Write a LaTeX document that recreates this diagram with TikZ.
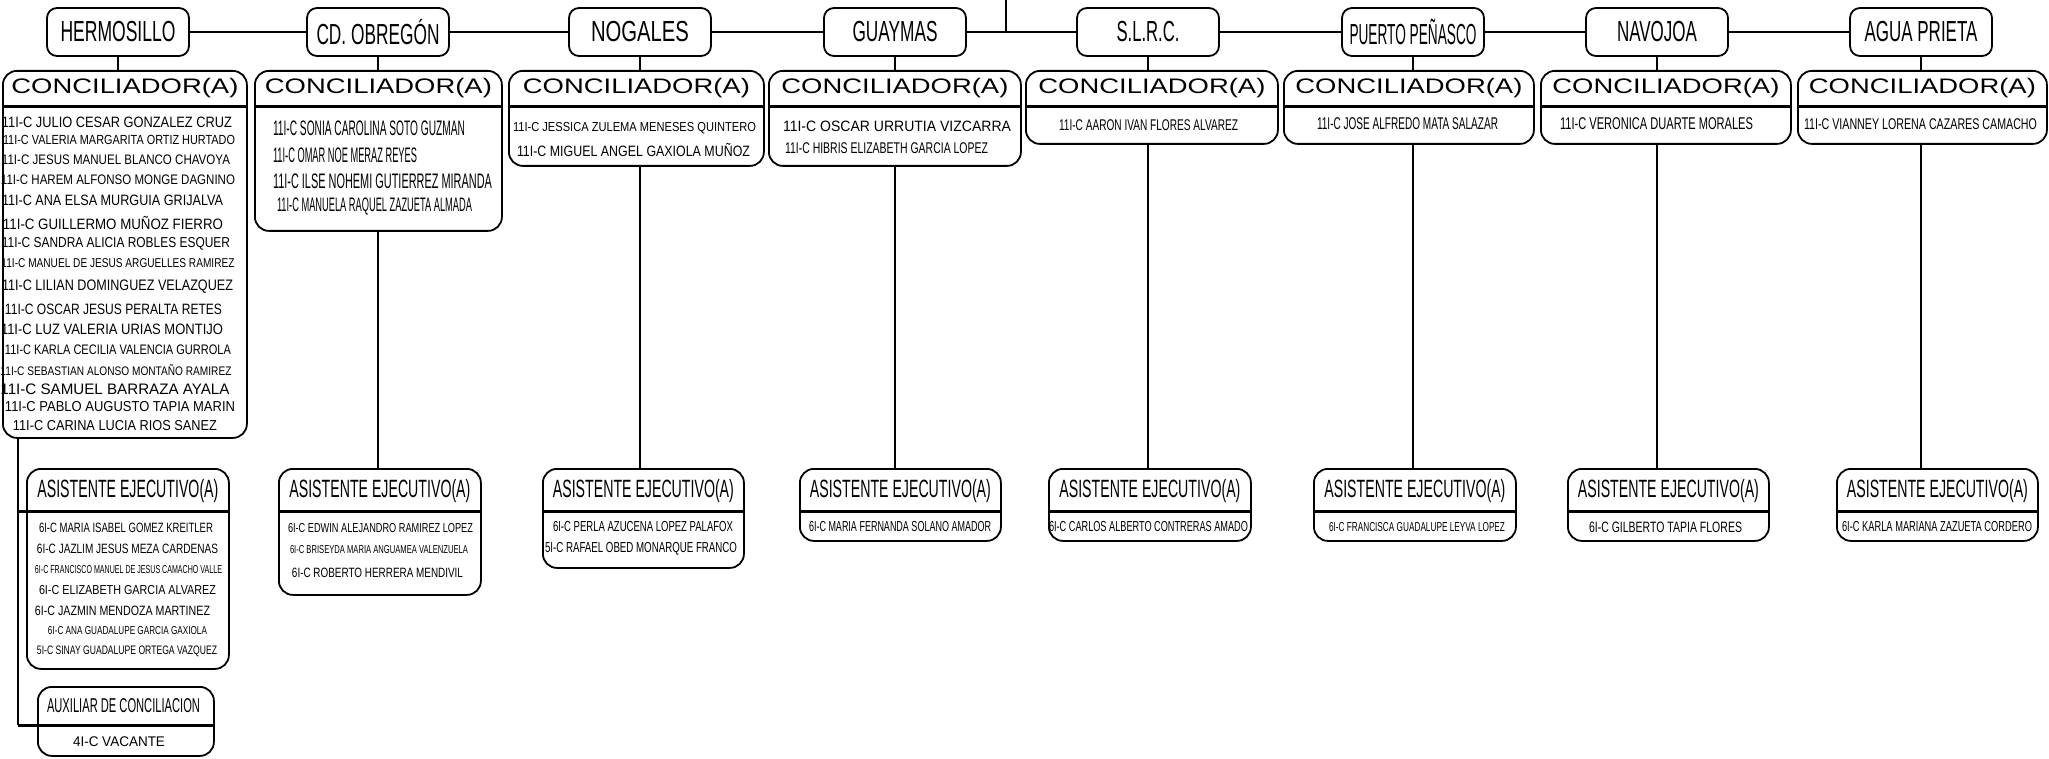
\documentclass[tikz,border=0pt]{standalone}
\usepackage{fontspec}
\setmainfont{Liberation Sans}
\usepackage{graphicx}
\usetikzlibrary{calc}
\newcommand\T[3]{\resizebox{#1pt}{\height}{\fontsize{#2pt}{#2pt}\selectfont #3}}
\newcommand\bx[5]{\node[box, anchor=north west, minimum width=#4-#2, minimum height=#5-#3] (#1) at (#2,#3) {};}
\begin{document}
\begin{tikzpicture}[x=1pt,y=-1pt,
  box/.style={draw, line width=1.8pt, rounded corners=14pt, inner sep=0pt, fill=white},
  topbox/.style={draw, line width=1.8pt, rounded corners=10pt, inner sep=0pt, minimum width=142pt, minimum height=48pt, fill=white},
  sep/.style={line width=3pt},
  con/.style={line width=1.6pt},
  txt/.style={inner sep=0pt, anchor=center}]
\useasboundingbox[fill=white] (0,0) rectangle (2049,759);

\coordinate (topin) at (1006,0);

% top boxes
\node[topbox] (t1) at (118,32) {\T{115}{29}{HERMOSILLO}};
\node[topbox] (t2) at (378,32) {\T{123}{29}{CD. OBREGÓN}};
\node[topbox] (t3) at (640,32) {\T{98}{29}{NOGALES}};
\node[topbox] (t4) at (895,32) {\T{85}{29}{GUAYMAS}};
\node[topbox] (t5) at (1148,32) {\T{63}{29}{S.L.R.C.}};
\node[topbox] (t6) at (1413,32) {\T{127}{29}{PUERTO PEÑASCO}};
\node[topbox] (t7) at (1657,32) {\T{80}{29}{NAVOJOA}};
\node[topbox] (t8) at (1921,32) {\T{113}{29}{AGUA PRIETA}};

\draw[con] (t1.east) -- (t2.west) (t2.east) -- (t3.west) (t3.east) -- (t4.west)
  (t4.east) -- (t5.west) (t5.east) -- (t6.west) (t6.east) -- (t7.west) (t7.east) -- (t8.west);
\draw[con] (topin) -- (topin |- t4.east);

% conciliador boxes
\bx{c1}{2}{70}{246}{437}
\bx{c2}{254}{70}{501}{230}
\bx{c3}{508}{70}{763}{165}
\bx{c4}{768}{70}{1020}{165}
\bx{c5}{1025}{70}{1277}{143}
\bx{c6}{1283}{70}{1533}{143}
\bx{c7}{1540}{70}{1790}{143}
\bx{c8}{1797}{70}{2046}{143}
\foreach \a/\b in {2/246,254/501,508/763,768/1020,1025/1277,1283/1533,1540/1790,1797/2046}
  \draw[sep] (\a,107) -- (\b,107);

\foreach \i in {1,...,8}
  \draw[con] (t\i.south) -- (t\i.south |- c\i.north);

\foreach \i/\n in {1/h,2/o,3/n,4/g,5/s,6/p,7/v,8/a}
  \node[txt] (hd\n) at ($(c\i.north west)!0.5!(c\i.north east)+(0,18)$) {\T{227}{21}{CONCILIADOR(A)}};

% Hermosillo conciliador names
\node[txt] (h1) at (117,122.5) {\T{230}{15}{11I-C JULIO CESAR GONZALEZ CRUZ}};
\node[txt] (h2) at (119,139.5) {\T{232}{13.2}{11I-C VALERIA MARGARITA ORTIZ HURTADO}};
\node[txt] (h3) at (116,160) {\T{228}{13.8}{11I-C JESUS MANUEL BLANCO CHAVOYA}};
\node[txt] (h4) at (118,180) {\T{234}{13.8}{11I-C HAREM ALFONSO MONGE DAGNINO}};
\node[txt] (h5) at (112.5,200.5) {\T{221}{15}{11I-C ANA ELSA MURGUIA GRIJALVA}};
\node[txt] (h6) at (113,223) {\T{220}{15}{11I-C GUILLERMO MUÑOZ FIERRO}};
\node[txt] (h7) at (116,244) {\T{228}{14.4}{11I-C SANDRA ALICIA ROBLES ESQUER}};
\node[txt] (h8) at (118,263.5) {\T{233}{12.8}{11I-C MANUEL DE JESUS ARGUELLES RAMIREZ}};
\node[txt] (h9) at (117.5,287) {\T{231}{15.2}{11I-C LILIAN DOMINGUEZ VELAZQUEZ}};
\node[txt] (h10) at (113.5,309) {\T{217}{15}{11I-C OSCAR JESUS PERALTA RETES}};
\node[txt] (h11) at (112,329.5) {\T{222}{15}{11I-C LUZ VALERIA URIAS MONTIJO}};
\node[txt] (h12) at (118,350) {\T{226}{13.8}{11I-C KARLA CECILIA VALENCIA GURROLA}};
\node[txt] (h13) at (116,370.5) {\T{231}{12.4}{11I-C SEBASTIAN ALONSO MONTAÑO RAMIREZ}};
\node[txt] (h14) at (115,389) {\T{229}{15.2}{11I-C SAMUEL BARRAZA AYALA}};
\node[txt] (h15) at (120,406.5) {\T{230}{14.4}{11I-C PABLO AUGUSTO TAPIA MARIN}};
\node[txt] (h16) at (115,425.5) {\T{204}{14.4}{11I-C CARINA LUCIA RIOS SANEZ}};

% Obregon
\node[txt] (o1) at (369,128) {\T{192}{21}{11I-C SONIA CAROLINA SOTO GUZMAN}};
\node[txt] (o2) at (345,155) {\T{144}{21}{11I-C OMAR NOE MERAZ REYES}};
\node[txt] (o3) at (382.5,181) {\T{219}{21}{11I-C ILSE NOHEMI GUTIERREZ MIRANDA}};
\node[txt] (o4) at (374.5,207) {\T{195}{19.5}{11I-C MANUELA RAQUEL ZAZUETA ALMADA}};
% Nogales
\node[txt] (n1) at (634.5,128) {\T{243}{13}{11I-C JESSICA ZULEMA MENESES QUINTERO}};
\node[txt] (n2) at (633.5,150) {\T{233}{15}{11I-C MIGUEL ANGEL GAXIOLA MUÑOZ}};
% Guaymas
\node[txt] (g1) at (897,126) {\T{228}{15}{11I-C OSCAR URRUTIA VIZCARRA}};
\node[txt] (g2) at (886.5,148) {\T{203}{15.5}{11I-C HIBRIS ELIZABETH GARCIA LOPEZ}};
% single ones
\node[txt] (s1) at (1148.5,125) {\T{179}{15.5}{11I-C AARON IVAN FLORES ALVAREZ}};
\node[txt] (p1) at (1407.5,124) {\T{181}{17}{11I-C JOSE ALFREDO MATA SALAZAR}};
\node[txt] (v1) at (1656.5,124) {\T{193}{17}{11I-C VERONICA DUARTE MORALES}};
\node[txt] (a1) at (1920.5,124) {\T{233}{15.5}{11I-C VIANNEY LORENA CAZARES CAMACHO}};

% asistente boxes
\bx{e1}{26}{468}{228}{668}
\bx{e2}{278}{468}{480}{594}
\bx{e3}{542}{468}{743}{567}
\bx{e4}{799}{468}{1000}{540}
\bx{e5}{1048}{468}{1250}{540}
\bx{e6}{1313}{468}{1515}{540}
\bx{e7}{1567}{468}{1768}{540}
\bx{e8}{1836}{468}{2037}{540}
\foreach \a/\b in {278/480,542/743,799/1000,1048/1250,1313/1515,1567/1768,1836/2037}
  \draw[sep] (\a,511) -- (\b,511);
\foreach \i in {2,...,8}
  \draw[con] (c\i.south -| t\i.south) -- (e\i.north -| t\i.south);

\foreach \i/\n in {1/h,2/o,3/n,4/g,5/s,6/p,7/v,8/a}
  \node[txt] (ha\n) at ($(e\i.north west)!0.5!(e\i.north east)+(0,23)$) {\T{181}{25}{ASISTENTE EJECUTIVO(A)}};

% auxiliar box
\bx{x1}{37}{686}{213}{755}

% Hermosillo side connector
\coordinate (hs) at (18,437);
\coordinate (hb) at (18,725);
\draw[con] (hs) -- (hb);
\draw[sep] (hs |- 0,511) -- (228,511);
\draw[sep] (hb) -- (213,725);

% Hermosillo asistente
\node[txt] (ea1) at (126,528) {\T{174}{13.5}{6I-C MARIA ISABEL GOMEZ KREITLER}};
\node[txt] (ea2) at (127.5,549) {\T{181}{13.5}{6I-C JAZLIM JESUS MEZA CARDENAS}};
\node[txt] (ea3) at (128.5,570) {\T{187}{11.5}{6I-C FRANCISCO MANUEL DE JESUS CAMACHO VALLE}};
\node[txt] (ea4) at (127.5,590) {\T{177}{13}{6I-C ELIZABETH GARCIA ALVAREZ}};
\node[txt] (ea5) at (122.5,611) {\T{175}{13.5}{6I-C JAZMIN MENDOZA MARTINEZ}};
\node[txt] (ea6) at (127.5,631) {\T{159}{11.5}{6I-C ANA GUADALUPE GARCIA GAXIOLA}};
\node[txt] (ea7) at (127,651) {\T{180}{12.3}{5I-C SINAY GUADALUPE ORTEGA VAZQUEZ}};

% Obregon asistente
\node[txt] (eb1) at (380.5,528) {\T{185}{13}{6I-C EDWIN ALEJANDRO RAMIREZ LOPEZ}};
\node[txt] (eb2) at (379,550) {\T{178}{11.5}{6I-C BRISEYDA MARIA ANGUAMEA VALENZUELA}};
\node[txt] (eb3) at (377.5,573) {\T{171}{13.5}{6I-C ROBERTO HERRERA MENDIVIL}};
% Nogales asistente
\node[txt] (ec1) at (643,527) {\T{180}{14.5}{6I-C PERLA AZUCENA LOPEZ PALAFOX}};
\node[txt] (ec2) at (641,549) {\T{192}{14.5}{5I-C RAFAEL OBED MONARQUE FRANCO}};
% others
\node[txt] (ed1) at (900,527) {\T{182}{14.5}{6I-C MARIA FERNANDA SOLANO AMADOR}};
\node[txt] (ee1) at (1148.5,527) {\T{199}{14.5}{6I-C CARLOS ALBERTO CONTRERAS AMADO}};
\node[txt] (ef1) at (1417,527) {\T{176}{13}{6I-C FRANCISCA GUADALUPE LEYVA LOPEZ}};
\node[txt] (eg1) at (1665.5,527) {\T{153}{15}{6I-C GILBERTO TAPIA FLORES}};
\node[txt] (eh1) at (1937,527) {\T{190}{14.5}{6I-C KARLA MARIANA ZAZUETA CORDERO}};

% auxiliar texts
\node[txt] (xa) at (123.5,706) {\T{153}{20}{AUXILIAR DE CONCILIACION}};
\node[txt] (xb) at (119,742) {\T{92}{14}{4I-C VACANTE}};
\end{tikzpicture}
\end{document}
